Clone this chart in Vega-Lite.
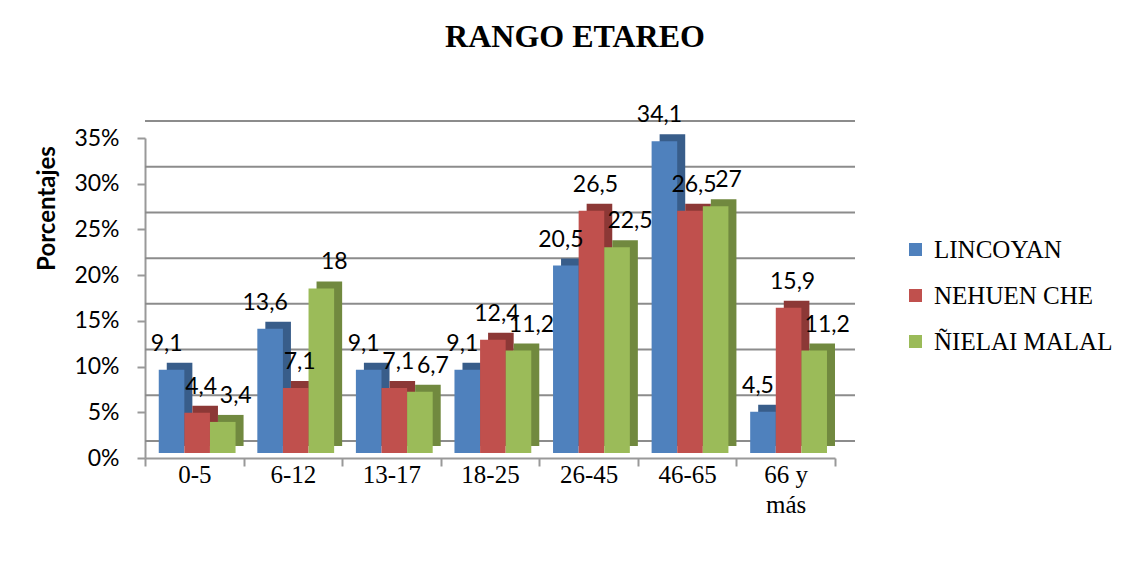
{
  "$schema": "https://vega.github.io/schema/vega-lite/v6.json",
  "autosize": {"type": "none"},
  "width": 690,
  "height": 320,
  "padding": {"left": 145, "top": 138, "right": 306, "bottom": 123},
  "background": "white",
  "config": {
    "locale": {"number": {"decimal": ",", "thousands": ".", "grouping": [3], "currency": ["", " €"]}},
    "view": {"stroke": null},
    "legend": {"labelFont": "Liberation Serif"}
  },
  "title": {
    "text": "RANGO ETAREO",
    "font": "Liberation Serif",
    "fontSize": 32,
    "fontWeight": "bold",
    "color": "black",
    "anchor": "middle",
    "dx": 85,
    "offset": 50
  },
  "data": {
    "values": [
      {"rango": "0-5", "grupo": "LINCOYAN", "valor": 9.1},
      {"rango": "0-5", "grupo": "NEHUEN CHE", "valor": 4.4},
      {"rango": "0-5", "grupo": "ÑIELAI MALAL", "valor": 3.4},
      {"rango": "6-12", "grupo": "LINCOYAN", "valor": 13.6},
      {"rango": "6-12", "grupo": "NEHUEN CHE", "valor": 7.1},
      {"rango": "6-12", "grupo": "ÑIELAI MALAL", "valor": 18},
      {"rango": "13-17", "grupo": "LINCOYAN", "valor": 9.1},
      {"rango": "13-17", "grupo": "NEHUEN CHE", "valor": 7.1},
      {"rango": "13-17", "grupo": "ÑIELAI MALAL", "valor": 6.7},
      {"rango": "18-25", "grupo": "LINCOYAN", "valor": 9.1},
      {"rango": "18-25", "grupo": "NEHUEN CHE", "valor": 12.4},
      {"rango": "18-25", "grupo": "ÑIELAI MALAL", "valor": 11.2},
      {"rango": "26-45", "grupo": "LINCOYAN", "valor": 20.5},
      {"rango": "26-45", "grupo": "NEHUEN CHE", "valor": 26.5},
      {"rango": "26-45", "grupo": "ÑIELAI MALAL", "valor": 22.5},
      {"rango": "46-65", "grupo": "LINCOYAN", "valor": 34.1},
      {"rango": "46-65", "grupo": "NEHUEN CHE", "valor": 26.5},
      {"rango": "46-65", "grupo": "ÑIELAI MALAL", "valor": 27},
      {"rango": "66 y más", "grupo": "LINCOYAN", "valor": 4.5},
      {"rango": "66 y más", "grupo": "NEHUEN CHE", "valor": 15.9},
      {"rango": "66 y más", "grupo": "ÑIELAI MALAL", "valor": 11.2}
    ]
  },
  "encoding": {
    "y": {
      "field": "valor",
      "type": "quantitative",
      "scale": {"domain": [0, 35]},
      "axis": {
        "title": "Porcentajes",
        "titleFont": "Lato",
        "titleFontSize": 24,
        "titleFontWeight": "bold",
        "titleColor": "black",
        "titleAngle": 270,
        "titleAlign": "center",
        "titleBaseline": "middle",
        "titleX": -98,
        "titleY": 70,
        "values": [0, 5, 10, 15, 20, 25, 30, 35],
        "labelExpr": "datum.value + '%'",
        "labelFont": "Lato",
        "labelFontSize": 23,
        "labelColor": "black",
        "labelPadding": 18,
        "tickColor": "#999999",
        "tickWidth": 2,
        "tickSize": 8,
        "domainColor": "#999999",
        "domainWidth": 2,
        "grid": false
      }
    }
  },
  "resolve": {"scale": {"color": "independent", "xOffset": "independent"}},
  "layer": [
    {
      "data": {"values": [{"valor": 0}, {"valor": 5}, {"valor": 10}, {"valor": 15}, {"valor": 20}, {"valor": 25}, {"valor": 30}, {"valor": 35}]},
      "mark": {"type": "rule", "color": "#8c8c8c", "strokeWidth": 2, "xOffset": 20, "x2Offset": 20, "yOffset": -17, "y2Offset": -17}
    },
    {
      "mark": {"type": "bar", "yOffset": -12, "y2Offset": -12},
      "encoding": {
        "x": {"field": "rango", "type": "nominal", "sort": null, "scale": {"paddingInner": 0, "paddingOuter": 0}},
        "xOffset": {"field": "grupo", "type": "nominal", "sort": ["LINCOYAN", "NEHUEN CHE", "ÑIELAI MALAL"], "scale": {"paddingInner": 0, "paddingOuter": 0.425, "align": 1}},
        "color": {
          "field": "grupo",
          "type": "nominal",
          "sort": ["LINCOYAN", "NEHUEN CHE", "ÑIELAI MALAL"],
          "scale": {"range": ["#385D8A", "#8C3836", "#71893F"]},
          "legend": null
        }
      }
    },
    {
      "mark": {"type": "bar", "yOffset": -5, "y2Offset": -5},
      "encoding": {
        "x": {
          "field": "rango",
          "type": "nominal",
          "sort": null,
          "scale": {"paddingInner": 0, "paddingOuter": 0},
          "axis": {
            "title": null,
            "labelAngle": 0,
            "labelFont": "Liberation Serif",
            "labelFontSize": 25,
            "labelColor": "black",
            "labelPadding": 8,
            "labelLineHeight": 30,
            "labelAlign": "center",
            "labelOffset": 0,
            "labelExpr": "datum.label == '66 y más' ? ['66 y', 'más'] : datum.label",
            "tickBand": "extent",
            "tickColor": "#999999",
            "tickWidth": 2,
            "tickSize": 8,
            "domainColor": "#999999",
            "domainWidth": 2
          }
        },
        "xOffset": {"field": "grupo", "type": "nominal", "sort": ["LINCOYAN", "NEHUEN CHE", "ÑIELAI MALAL"], "scale": {"paddingInner": 0, "paddingOuter": 0.425, "align": 0.632}},
        "color": {
          "field": "grupo",
          "type": "nominal",
          "sort": ["LINCOYAN", "NEHUEN CHE", "ÑIELAI MALAL"],
          "scale": {"range": ["#4F81BD", "#C0504D", "#9BBB59"]},
          "legend": {
            "title": null,
            "orient": "none",
            "legendX": 758,
            "legendY": 99,
            "symbolType": "square",
            "symbolSize": 169,
            "symbolStrokeWidth": 0,
            "labelFont": "Liberation Serif",
            "labelFontSize": 25,
            "labelColor": "black",
            "labelLimit": 300,
            "rowPadding": 20,
            "labelOffset": 6
          }
        }
      }
    },
    {
      "mark": {"type": "text", "baseline": "alphabetic", "dy": -24, "dx": 3, "font": "Lato", "fontSize": 23, "color": "black"},
      "encoding": {
        "x": {"field": "rango", "type": "nominal", "sort": null},
        "xOffset": {"field": "grupo", "type": "nominal", "sort": ["LINCOYAN", "NEHUEN CHE", "ÑIELAI MALAL"], "scale": {"paddingInner": 0, "paddingOuter": 0.425, "align": 0.632}},
        "text": {"field": "valor", "type": "quantitative", "format": ".1~f"}
      }
    }
  ]
}
